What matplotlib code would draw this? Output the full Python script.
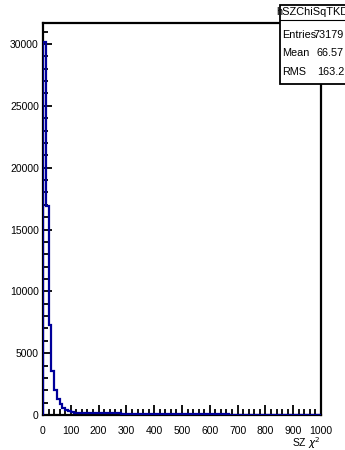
import numpy as np
import matplotlib
matplotlib.use('Agg')
import matplotlib.pyplot as plt
from matplotlib.patches import Rectangle
from matplotlib.ticker import MultipleLocator

# histogram: SZ chi2, 100 bins from 0 to 1000
edges = np.arange(0, 1001, 10)
counts = [30200, 16900, 7260, 3550, 2050, 1290, 900, 600, 400, 290, 230,
          200, 185, 175, 168, 160, 155, 150, 146, 142, 138,
          135, 132, 130, 128, 126, 124, 122, 120, 118, 117,
          116, 114, 113, 112, 110, 109, 108, 107, 106, 105,
          104, 103, 102, 101, 100, 98, 96, 94, 92, 90,
          80, 75, 70, 66, 62, 58, 55, 52, 50, 48,
          46, 45, 44, 43, 42, 41, 40, 39, 38, 37,
          36, 36, 35, 35, 34, 34, 33, 33, 32, 32,
          31, 31, 30, 30, 30, 29, 29, 28, 28, 28,
          27, 27, 27, 26, 26, 26, 25, 25, 25]

hist_name = 'hSZChiSqTKD'
stat_labels = ['Entries', 'Mean', 'RMS']
stat_values = ['73179', '66.57', '163.2']

W, H = 345, 450
FONT = 'Liberation Sans'
fig = plt.figure(figsize=(W / 100, H / 100), dpi=100)
ax = fig.add_axes([43 / W, 1 - 415 / H, 278 / W, 392 / H])

ax.stairs(counts, edges, color='#00009a', lw=1.6, baseline=0, zorder=3)
ax.set_xlim(0, 1000)
ax.set_ylim(0, 31700)

for s in ax.spines.values():
    s.set_linewidth(1.6)
ax.xaxis.set_major_locator(MultipleLocator(100))
ax.xaxis.set_minor_locator(MultipleLocator(20))
ax.yaxis.set_major_locator(MultipleLocator(5000))
ax.yaxis.set_minor_locator(MultipleLocator(1000))
ax.tick_params(which='both', direction='in', top=False, right=False, width=1.3)
ax.tick_params(axis='x', which='major', length=7.2, pad=8, labelsize=7.5)
ax.tick_params(axis='x', which='minor', length=4.3)
ax.tick_params(axis='y', which='major', length=6.2, pad=3, labelsize=7.5)
ax.tick_params(axis='y', which='minor', length=3.5)
for lab in ax.get_xticklabels() + ax.get_yticklabels():
    lab.set_fontfamily(FONT)

fig.text(321 / W, 1 - 443 / H, r'SZ $\chi^{2}$', ha='right', va='center',
         fontsize=7.5, family=FONT)

# stats box (partly outside the canvas on the right)
box = Rectangle((279.5, H - 83.5), 80, 78.5, transform=None, facecolor='white',
                edgecolor='black', lw=1.3, zorder=10)
fig.patches.append(box)
fig.text(276.5 / W, 1 - 12 / H, hist_name, ha='left', va='center', fontsize=7.9,
         family=FONT, zorder=12)
fig.add_artist(plt.Line2D([279.5, 345], [H - 19.5, H - 19.5], transform=None,
                          color='black', lw=0.8, zorder=11))
for i, (lab, val) in enumerate(zip(stat_labels, stat_values)):
    y = 1 - (35 + i * 18.5) / H
    fig.text(282 / W, y, lab, ha='left', va='center', fontsize=7.8,
             family=FONT, zorder=12)
    fig.text(344 / W, y, val, ha='right', va='center', fontsize=7.8,
             family=FONT, zorder=12)

fig.savefig('out.png', dpi=100)
